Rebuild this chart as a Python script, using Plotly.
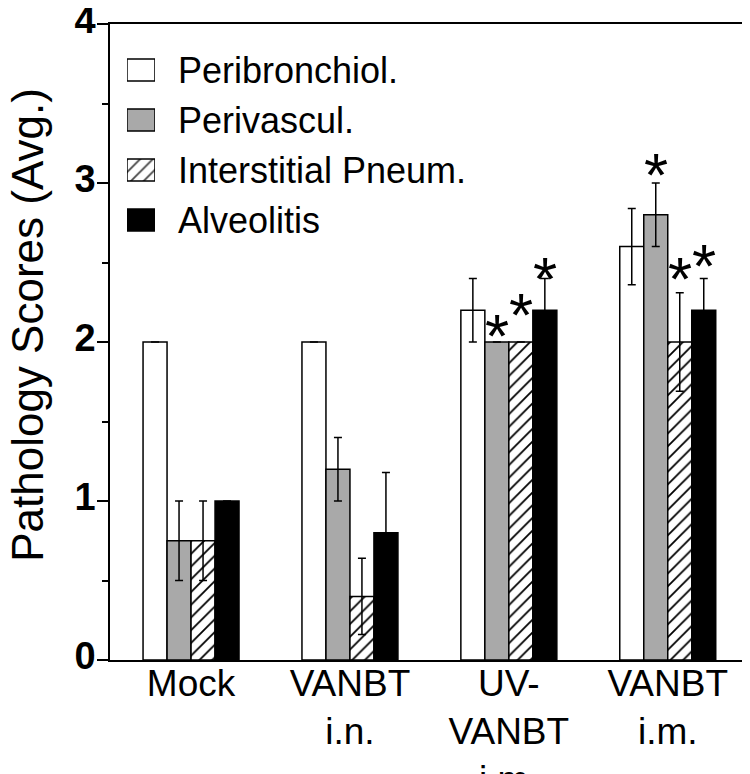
import plotly.graph_objects as go

groups = ["Mock", "VANBT<br>i.n.", "UV-<br>VANBT<br>i.m.", "VANBT<br>i.m."]
series = ["Peribronchiol.", "Perivascul.", "Interstitial Pneum.", "Alveolitis"]

peribronchiol = [2.0, 2.0, 2.2, 2.6]
perivascul = [0.75, 1.2, 2.0, 2.8]
interstitial = [0.75, 0.4, 2.0, 2.0]
alveolitis = [1.0, 0.8, 2.2, 2.2]

err_peribronchiol = [None, None, 0.2, 0.24]
err_perivascul = [0.25, 0.2, None, 0.2]
err_interstitial = [0.25, 0.24, None, 0.31]
err_alveolitis = [None, 0.38, 0.2, 0.2]

# significance stars: (group index, series index, y of star centre)
stars = [(2, 1, 2.13), (2, 2, 2.26), (2, 3, 2.49),
         (3, 1, 3.14), (3, 2, 2.49), (3, 3, 2.57)]

values = [peribronchiol, perivascul, interstitial, alveolitis]
errors = [err_peribronchiol, err_perivascul, err_interstitial, err_alveolitis]
colors = ["#ffffff", "#a9a9a9", "#ffffff", "#000000"]
patterns = ["", "", "/", ""]

FONT = "Liberation Sans, Arial, Helvetica, sans-serif"
bargap = 0.396
x = list(range(len(groups)))

fig = go.Figure()
for name, vals, err, col, pat in zip(series, values, errors, colors, patterns):
    fig.add_trace(go.Bar(
        x=x, y=vals, name=name,
        marker=dict(color=col, line=dict(color="black", width=1.5),
                    pattern=dict(shape=pat, fgcolor="black", bgcolor="white",
                                 fgopacity=1, size=9, solidity=0.2)),
        error_y=dict(type="data", array=err, visible=True, color="black",
                     thickness=1.5, width=4),
    ))

# legend drawn as a small inset bar chart so the swatches can be large
fig.add_trace(go.Bar(
    x=[1] * len(series), y=series, orientation="h", xaxis="x2", yaxis="y2",
    width=0.44,
    marker=dict(color=colors, line=dict(color="black", width=1.5),
                pattern=dict(shape=patterns, fgcolor="black", bgcolor="white",
                             fgopacity=1, size=9, solidity=0.2)),
    hoverinfo="skip",
))

bw = (1 - bargap) / len(series)
for g, s, ys in stars:
    fig.add_annotation(x=g + (s - (len(series) - 1) / 2) * bw, y=ys, text="*",
                       showarrow=False, yshift=-14,
                       font=dict(family=FONT, size=62, color="black"))

fig.add_annotation(text="Pathology Scores (Avg.)", textangle=-90,
                   xref="paper", yref="paper", x=0, y=0.527,
                   xanchor="center", yanchor="middle", xshift=-82,
                   showarrow=False, font=dict(size=44, family=FONT))

fig.update_layout(
    width=750, height=774,
    margin=dict(l=102, r=10, t=16, b=122),
    plot_bgcolor="white", paper_bgcolor="white",
    barmode="group", bargap=bargap, bargroupgap=0,
    font=dict(family=FONT, color="black"),
    showlegend=False,
    xaxis=dict(range=[-0.51, 3.505], tickvals=x, ticktext=groups,
               showline=True, linecolor="black", linewidth=1.5, mirror=True,
               ticks="", showgrid=False, zeroline=False, automargin=False,
               ticklabelstandoff=-10, tickfont=dict(size=37, family=FONT)),
    yaxis=dict(range=[0, 4], dtick=1, showline=True, linecolor="black",
               linewidth=1.5, mirror=True, ticks="outside", ticklen=11,
               tickwidth=1.5, tickcolor="black", automargin=False,
               minor=dict(dtick=0.5, ticks="outside", ticklen=6, tickwidth=1.5,
                          tickcolor="black"),
               showgrid=False, zeroline=False,
               ticklabelstandoff=-6, ticklabelshift=-4,
               ticklabeloverflow="allow",
               tickfont=dict(size=38, family=FONT, weight="bold")),
    xaxis2=dict(domain=[0.0266, 0.0705], range=[0, 1], anchor="y2",
                visible=False, fixedrange=True),
    yaxis2=dict(domain=[0.6525, 0.967], anchor="x2", side="right",
                autorange="reversed", showline=False, ticks="",
                ticklabelstandoff=22, showgrid=False, zeroline=False,
                tickfont=dict(size=36, family=FONT)),
)

fig.write_html("out.html")
